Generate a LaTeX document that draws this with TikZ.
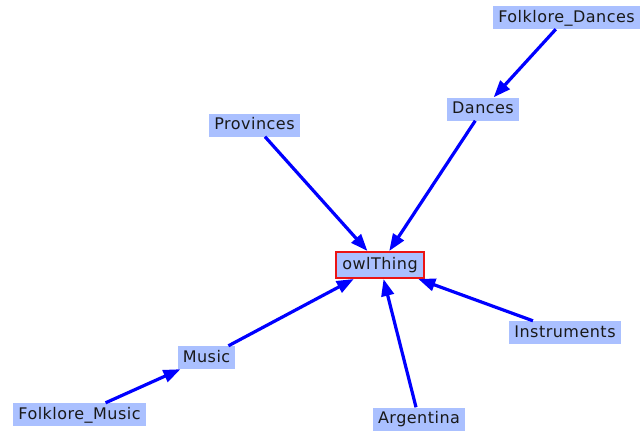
\documentclass[tikz,border=0pt]{standalone}
\usepackage{fontspec}
\setmainfont{DejaVu Sans}[LetterSpace=3]
\usetikzlibrary{arrows.meta}
\definecolor{nodeblue}{RGB}{170,192,255}
\definecolor{edgeblue}{RGB}{0,0,255}
\definecolor{rootred}{RGB}{235,20,20}
\begin{document}
\begin{tikzpicture}[x=1pt,y=-1pt,
  cls/.style={fill=nodeblue, draw=none, inner xsep=5pt, inner ysep=0pt,
    minimum height=23pt, text height=12.5pt, text depth=3pt,
    font=\fontsize{16}{20}\selectfont, text=black!90},
  root/.style={cls, draw=rootred, line width=2pt, minimum height=26pt, inner xsep=6pt},
  isa/.style={draw=edgeblue, line width=3.2pt,
    -{Triangle[length=17pt,width=12.5pt]}}]
\useasboundingbox (0,0) rectangle (641,431);
\node[root] (owl) at (380,265) {owlThing};
\node[cls] (fd) at (566.5,17.5) {Folklore\_Dances};
\node[cls] (d) at (483,109) {Dances};
\node[cls] (p) at (254.5,125) {Provinces};
\node[cls] (m) at (206.5,357.5) {Music};
\node[cls] (fm) at (79.5,414.5) {Folklore\_Music};
\node[cls] (a) at (419,419) {Argentina};
\node[cls] (i) at (565,332.5) {Instruments};
\draw[isa] (fd) -- (d);
\draw[isa] (d) -- (owl);
\draw[isa] (p) -- (owl);
\draw[isa] (i) -- (owl);
\draw[isa] (a) -- (owl);
\draw[isa] (m) -- (owl);
\draw[isa] (fm) -- (m);
\end{tikzpicture}
\end{document}
